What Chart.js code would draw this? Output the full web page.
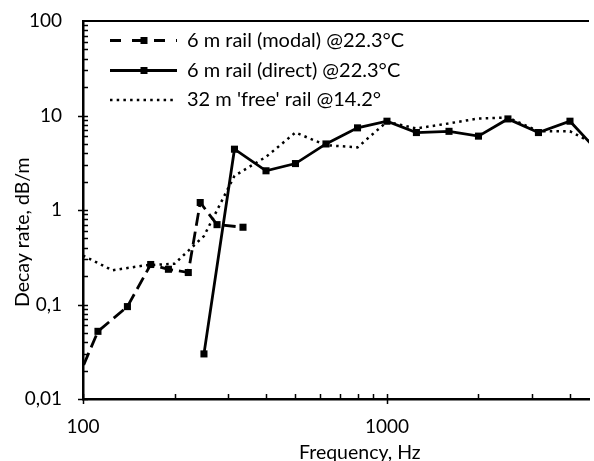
<!DOCTYPE html>
<html>
<head>
<meta charset="utf-8">
<script src="https://cdn.jsdelivr.net/npm/chart.js@4"></script>
<style>
    html, body { margin: 0; padding: 0; background: #fff; overflow: hidden; }
</style>
</head>
<body>
<canvas id="chart1" width="594" height="461"></canvas>
<script>
// values (frequency in Hz, decay rate in dB/m)
const modalFreq = [95, 112, 140, 167, 191, 222, 243, 276, 336]
const modalDecay = [0.015, 0.052, 0.095, 0.265, 0.236, 0.218, 1.2, 0.7, 0.657]

const directFreq = [250, 315, 400, 500, 630, 800, 1000, 1250, 1600, 2000, 2500, 3150, 4000, 5000]
const directDecay = [0.03, 4.4, 2.6, 3.1, 5.0, 7.4, 8.7, 6.6, 6.8, 6.05, 9.2, 6.6, 8.7, 4.0]

const freeFreq = [100, 125, 160, 200, 250, 315, 400, 500, 630, 800, 1000, 1250, 1600, 2000, 2500, 3150, 4000, 5000]
const freeDecay = [0.33, 0.23, 0.26, 0.27, 0.53, 2.3, 3.65, 6.6, 4.85, 4.6, 8.6, 7.3, 8.25, 9.3, 9.5, 6.8, 6.8, 4.7]

const seriesNames = ["6 m rail (modal) @22.3°C", "6 m rail (direct) @22.3°C", "32 m 'free' rail @14.2°"]

const xTicks = [100, 1000]
const xTickLabels = ['100', '1000']
const yTicks = [0.01, 0.1, 1, 10, 100]
const yTickLabels = ['0,01', '0,1', '1', '10', '100']
const xTitle = 'Frequency, Hz'
const yTitle = 'Decay rate, dB/m'

const FONT = 'Lato'
const TXT = '#000'

function toPoints(xs, ys) {
    return xs.map((x, i) => ({x: x, y: ys[i]}))
}

// frame, inner tick marks, legend and axis titles
const extras = {
    id: 'extras',
    afterDraw(chart) {
        const ctx = chart.ctx
        const a = chart.chartArea
        const xs = chart.scales.x
        const ys = chart.scales.y
        ctx.save()
        ctx.strokeStyle = '#000'
        ctx.fillStyle = TXT

        // top border
        ctx.lineWidth = 2
        ctx.beginPath()
        ctx.moveTo(a.left, a.top)
        ctx.lineTo(a.right, a.top)
        ctx.stroke()

        // tick marks
        ctx.lineWidth = 1.5
        ctx.beginPath()
        for (let d = 100; d <= 1000; d *= 10) {
            for (let m = 1; m <= 9; m++) {
                const v = d * m
                if (v > xs.max) continue
                const px = Math.round(xs.getPixelForValue(v)) + 0.5
                ctx.moveTo(px, a.bottom + (m === 1 ? 5 : 0))
                ctx.lineTo(px, a.bottom - 5)
            }
        }
        for (let d = 0.01; d < 100; d *= 10) {
            for (let m = 1; m <= 9; m++) {
                const py = Math.round(ys.getPixelForValue(d * m)) + 0.5
                ctx.moveTo(a.left - (m === 1 ? 5 : 0), py)
                ctx.lineTo(a.left + 5, py)
            }
        }
        ctx.stroke()

        // legend
        const rows = [40.5, 70.5, 100]
        const x0 = 110, x1 = 177, xm = 144
        ctx.lineWidth = 2.8
        ctx.setLineDash([11, 11])
        ctx.beginPath(); ctx.moveTo(x0, rows[0]); ctx.lineTo(x1, rows[0]); ctx.stroke()
        ctx.setLineDash([])
        ctx.beginPath(); ctx.moveTo(x0, rows[1]); ctx.lineTo(x1, rows[1]); ctx.stroke()
        ctx.lineWidth = 2.5
        ctx.setLineDash([2.5, 4.2])
        ctx.beginPath(); ctx.moveTo(x0, rows[2]); ctx.lineTo(x1, rows[2]); ctx.stroke()
        ctx.setLineDash([])
        ctx.fillRect(xm - 3.5, rows[0] - 3.5, 7, 7)
        ctx.fillRect(xm - 3.5, rows[1] - 3.5, 7, 7)

        ctx.font = '20px ' + FONT
        ctx.textBaseline = 'middle'
        ctx.textAlign = 'left'
        seriesNames.forEach((name, i) => ctx.fillText(name, 187, rows[i]))

        // axis titles
        ctx.font = '19.5px ' + FONT
        ctx.textBaseline = 'alphabetic'
        ctx.fillText(xTitle, 299, 459)
        ctx.translate(29, 307)
        ctx.rotate(-Math.PI / 2)
        ctx.fillText(yTitle, 0, 0)
        ctx.restore()
    }
}

const ctx1 = document.querySelector('#chart1').getContext('2d')
const chart1 = new Chart(ctx1, {
    type: 'line',
    data: {
        datasets: [{
            label: seriesNames[0],
            data: toPoints(modalFreq, modalDecay),
            borderColor: '#000',
            backgroundColor: '#000',
            borderWidth: 2.8,
            borderDash: [13, 6],
            pointStyle: 'rect',
            pointRadius: 5,
            pointBorderWidth: 0,
            tension: 0,
        }, {
            label: seriesNames[1],
            data: toPoints(directFreq, directDecay),
            borderColor: '#000',
            backgroundColor: '#000',
            borderWidth: 2.8,
            pointStyle: 'rect',
            pointRadius: 5,
            pointBorderWidth: 0,
            tension: 0,
        }, {
            label: seriesNames[2],
            data: toPoints(freeFreq, freeDecay),
            borderColor: '#000',
            borderWidth: 2.5,
            borderDash: [2.5, 4.2],
            pointRadius: 0,
            tension: 0,
        }]
    },
    options: {
        responsive: false,
        animation: false,
        devicePixelRatio: 1,
        layout: { padding: { top: 21, left: 0, right: 0, bottom: 0 } },
        plugins: {
            legend: { display: false },
            tooltip: { enabled: false }
        },
        scales: {
            x: {
                type: 'logarithmic',
                min: 100,
                max: 4620,
                afterBuildTicks: scale => { scale.ticks = xTicks.map(v => ({value: v})) },
                afterFit: scale => {
                    scale.height = 62
                    scale.paddingLeft = 0
                    scale.paddingRight = 0
                },
                ticks: {
                    color: TXT,
                    font: { family: FONT, size: 19 },
                    padding: 16,
                    maxRotation: 0,
                    autoSkip: false,
                    callback: v => xTickLabels[xTicks.indexOf(v)] || ''
                },
                grid: { display: false, drawTicks: false },
                border: { display: true, color: '#000', width: 2.5 }
            },
            y: {
                type: 'logarithmic',
                min: 0.01,
                max: 100,
                afterBuildTicks: scale => { scale.ticks = yTicks.map(v => ({value: v})) },
                afterFit: scale => {
                    scale.width = 83
                    scale.paddingTop = 0
                    scale.paddingBottom = 0
                },
                ticks: {
                    color: TXT,
                    font: { family: FONT, size: 19 },
                    padding: 21,
                    autoSkip: false,
                    callback: v => yTickLabels[yTicks.indexOf(v)] || ''
                },
                grid: { display: false, drawTicks: false },
                border: { display: true, color: '#000', width: 2.5 }
            }
        }
    },
    plugins: [extras]
})
</script>
</body>
</html>
